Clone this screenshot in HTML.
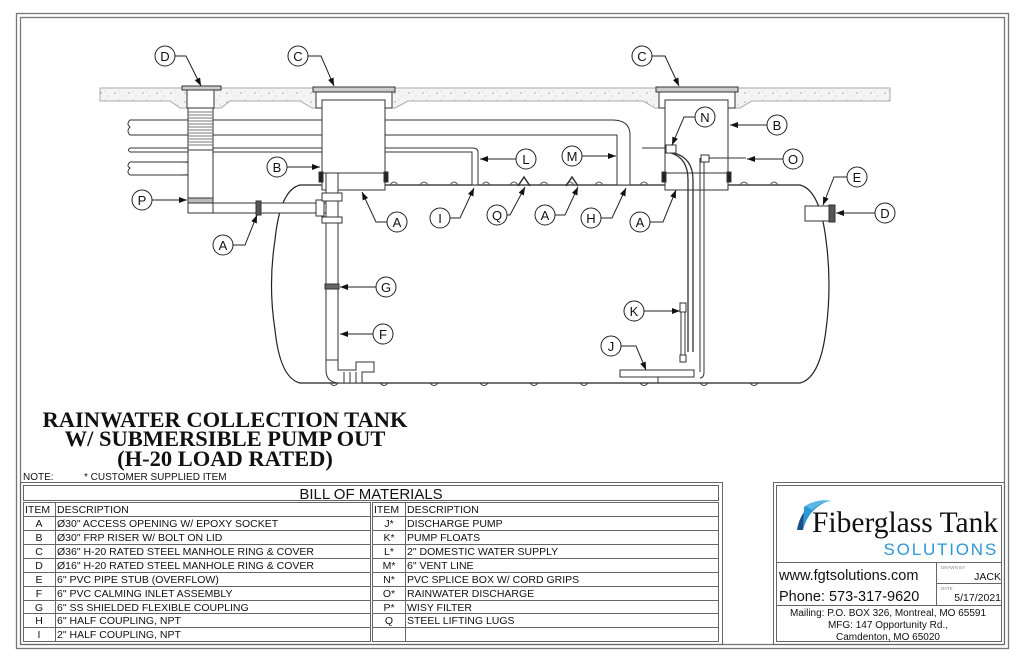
<!DOCTYPE html>
<html><head><meta charset="utf-8"><style>
html,body{margin:0;padding:0;background:#fff}
svg{display:block}
text{font-family:"Liberation Sans",sans-serif;fill:#111}
.s{font-family:"Liberation Serif",serif;font-weight:bold}
.t{font-size:10.5px}
</style></head><body>
<svg width="1024" height="663" viewBox="0 0 1024 663" xmlns="http://www.w3.org/2000/svg">
<defs>
<marker id="a" markerWidth="8" markerHeight="6" refX="8" refY="3" orient="auto" markerUnits="userSpaceOnUse"><path d="M0,0 L8,3 L0,6z" fill="#111"/></marker>
<pattern id="dots" width="14" height="9" patternUnits="userSpaceOnUse"><rect width="14" height="9" fill="#f4f4f4"/><circle cx="3" cy="3" r="0.6" fill="#777"/><circle cx="10" cy="6" r="0.5" fill="#999"/><circle cx="7" cy="1" r="0.4" fill="#888"/></pattern>
</defs>
<!-- frame -->
<rect x="16.5" y="13.5" width="992" height="635" fill="none" stroke="#777" stroke-width="1.3"/>
<rect x="20.5" y="17.5" width="984" height="627" fill="none" stroke="#777" stroke-width="1.3"/>

<g stroke="#333" stroke-width="1" fill="none">
<!-- slab -->
<path fill="url(#dots)" stroke="#aaa" d="M100,88 H890 V101 H752 L740,108 H655 L643,101 H408 L395,108 H312 L300,101 H230 L221,108 H180 L170,101 H100Z"/>
<!-- tank -->
<path d="M300,185 H800 Q820,190 826,240 Q832,285 826,330 Q820,378 800,383 H300 Q280,378 275,330 Q268,285 275,240 Q280,190 300,185Z" stroke="#222" stroke-width="1.2" fill="#fff"/>
<path d="M390,185 q4,-6 8,0 M420,185 q4,-6 8,0 M450,185 q4,-6 8,0 M482,185 q4,-6 8,0 M510,185 q4,-6 8,0 M540,185 q4,-6 8,0 M566,185 q4,-6 8,0 M595,185 q4,-6 8,0 M640,185 q4,-6 8,0 M740,185 q4,-6 8,0 M770,185 q4,-6 8,0" stroke="#555"/>
<path d="M330,383 q4,5 8,0 M380,383 q4,5 8,0 M430,383 q4,5 8,0 M480,383 q4,5 8,0 M530,383 q4,5 8,0 M580,383 q4,5 8,0 M640,383 q4,5 8,0 M700,383 q4,5 8,0 M750,383 q4,5 8,0"/>
<path d="M518,186 l6,-9 l6,9 M566,186 l6,-9 l6,9" stroke-width="1.5"/>
<!-- pipes -->
<path fill="#fff" d="M130,120 H612 Q630,120 630,135 V185 H617 V135 H130 M130,120 q-4,4 0,7 q-4,4 0,8"/>
<path fill="#fff" d="M130,148 H472 Q478,148 478,152 V185 H472 V152 H130 M130,148 q-3,2 0,4"/>
<path fill="#fff" d="M130,162 H188 V175 H130 M130,162 q-4,4 0,6 q-4,4 0,7"/>
<path d="M180,162 q25,0 25,7 q0,6 -25,6"/>
<!-- filter column D -->
<rect x="182" y="86" width="39" height="4" fill="#ccc"/>
<rect x="187" y="90" width="27" height="18" fill="#fff"/>
<rect x="188" y="108" width="25" height="42" fill="#fff"/>
<path d="M188,112 H213 M188,115 H213 M188,118 H213 M188,121 H213 M188,124 H213 M188,127 H213 M188,130 H213 M188,133 H213 M188,136 H213 M188,139 H213 M188,142 H213 M188,145 H213" stroke="#777"/>
<rect x="188" y="150" width="25" height="63" fill="#fff"/>
<rect x="188" y="198" width="25" height="5" fill="#bbb"/>
<path fill="#fff" d="M213,203 H335 V213 H213 Z"/>
<rect x="256" y="201" width="5" height="14" fill="#555"/>
<rect x="316" y="200" width="8" height="16" fill="#fff"/>
<!-- left riser -->
<rect x="313" y="87" width="82" height="5" fill="#ccc"/>
<rect x="316" y="92" width="76" height="16" fill="#fff"/>
<rect x="322" y="100" width="63" height="90" fill="#fff"/>
<rect x="322" y="173" width="63" height="17"/>
<rect x="319" y="172" width="4" height="10" fill="#222"/><rect x="384" y="172" width="4" height="10" fill="#222"/>
<!-- inlet F -->
<rect x="326" y="173" width="12" height="192" fill="#fff"/>
<rect x="322" y="193" width="20" height="8" fill="#fff"/>
<rect x="322" y="217" width="20" height="6" fill="#fff"/>
<rect x="325" y="284" width="14" height="5" fill="#666"/>
<path fill="#fff" d="M326,360 V370 Q326,383 340,383 H362 V372 H374 V362 H356 V370 H338 V360Z"/>
<path d="M344,372 V383 M350,372 V383 M356,372 V383"/>
<!-- right riser -->
<rect x="656" y="87" width="82" height="5" fill="#ccc"/>
<rect x="659" y="92" width="76" height="16" fill="#fff"/>
<rect x="665" y="100" width="63" height="90" fill="#fff"/>
<rect x="665" y="173" width="63" height="17"/>
<rect x="662" y="172" width="4" height="10" fill="#222"/><rect x="727" y="172" width="4" height="10" fill="#222"/>
<rect x="666" y="145" width="10" height="8" fill="#fff"/>
<path d="M642,148 H666"/>
<path d="M671,153 Q688,158 688,180 V352 M674,153 Q693,158 693,180 V352" stroke-width="1.3"/>
<path d="M681,305 V360 M685,305 V360"/>
<rect x="680" y="303" width="6" height="9" fill="#fff"/>
<rect x="680" y="355" width="6" height="7" fill="#fff"/>
<path d="M700,158 V372 M704,158 V372 Q704,378 700,378"/>
<rect x="701" y="155" width="8" height="7" fill="#fff"/>
<path d="M709,158 H746"/>
<rect x="620" y="370" width="74" height="7" fill="#fff"/>
<path d="M658,377 V383"/>
<rect x="805" y="206" width="24" height="15" fill="#fff"/>
<rect x="829" y="205" width="6" height="17" fill="#555"/>
</g>

<g stroke="#222" stroke-width="1" fill="none">
<path d="M175,56 H186 L201,86" marker-end="url(#a)"/>
<path d="M308,56 H321 L334,86" marker-end="url(#a)"/>
<path d="M652,56 H665 L679,86" marker-end="url(#a)"/>
<path d="M695,117 H684 L672,145" marker-end="url(#a)"/>
<path d="M767,125 H730" marker-end="url(#a)"/>
<path d="M516,159 H480" marker-end="url(#a)"/>
<path d="M562,156 H616" marker-end="url(#a)"/>
<path d="M783,159 H747" marker-end="url(#a)"/>
<path d="M847,177 H834 L823,205" marker-end="url(#a)"/>
<path d="M875,213 H836" marker-end="url(#a)"/>
<path d="M287,167 H320" marker-end="url(#a)"/>
<path d="M152,200 H187" marker-end="url(#a)"/>
<path d="M387,222 H376 L362,192" marker-end="url(#a)"/>
<path d="M450,218 H460 L474,188" marker-end="url(#a)"/>
<path d="M507,215 H510 L525,187" marker-end="url(#a)"/>
<path d="M555,215 H565 L578,187" marker-end="url(#a)"/>
<path d="M601,218 H612 L626,188" marker-end="url(#a)"/>
<path d="M650,222 H663 L676,190" marker-end="url(#a)"/>
<path d="M233,245 H245 L257,215" marker-end="url(#a)"/>
<path d="M376,287 H340" marker-end="url(#a)"/>
<path d="M373,334 H340" marker-end="url(#a)"/>
<path d="M644,311 H680" marker-end="url(#a)"/>
<path d="M621,346 H636 L646,370" marker-end="url(#a)"/>
</g>
<g stroke="#222" fill="#fff" stroke-width="1">
<circle cx="165" cy="56" r="10"/><circle cx="298" cy="56" r="10"/><circle cx="642" cy="56" r="10"/>
<circle cx="705" cy="117" r="10"/><circle cx="777" cy="125" r="10"/><circle cx="526" cy="159" r="10"/>
<circle cx="572" cy="156" r="10"/><circle cx="793" cy="159" r="10"/><circle cx="857" cy="177" r="10"/>
<circle cx="885" cy="213" r="10"/><circle cx="277" cy="167" r="10"/><circle cx="142" cy="200" r="10"/>
<circle cx="397" cy="222" r="10"/><circle cx="440" cy="218" r="10"/><circle cx="497" cy="215" r="10"/>
<circle cx="545" cy="215" r="10"/><circle cx="591" cy="218" r="10"/><circle cx="640" cy="222" r="10"/>
<circle cx="223" cy="245" r="10"/><circle cx="386" cy="287" r="10"/><circle cx="383" cy="334" r="10"/>
<circle cx="634" cy="311" r="10"/><circle cx="611" cy="346" r="10"/>
</g>
<g font-size="13" text-anchor="middle">
<text x="165" y="61">D</text><text x="298" y="61">C</text><text x="642" y="61">C</text>
<text x="705" y="122">N</text><text x="777" y="130">B</text><text x="526" y="164">L</text>
<text x="572" y="161">M</text><text x="793" y="164">O</text><text x="857" y="182">E</text>
<text x="885" y="218">D</text><text x="277" y="172">B</text><text x="142" y="205">P</text>
<text x="397" y="227">A</text><text x="440" y="223">I</text><text x="497" y="220">Q</text>
<text x="545" y="220">A</text><text x="591" y="223">H</text><text x="640" y="227">A</text>
<text x="223" y="250">A</text><text x="386" y="292">G</text><text x="383" y="339">F</text>
<text x="634" y="316">K</text><text x="611" y="351">J</text>
</g>

<g font-size="22.5" text-anchor="middle">
<text class="s" x="225" y="427">RAINWATER COLLECTION TANK</text>
<text class="s" x="225" y="446">W/ SUBMERSIBLE PUMP OUT</text>
<text class="s" x="225" y="466">(H-20 LOAD RATED)</text>
</g>
<text x="23" y="480" font-size="10">NOTE:</text>
<text x="84" y="480" font-size="10">* CUSTOMER SUPPLIED ITEM</text>

<g stroke="#666" fill="none" stroke-width="1">
<rect x="20.5" y="482.5" width="702" height="162"/>
<rect x="23.5" y="485.5" width="695" height="15"/>
<rect x="23.5" y="502.5" width="347" height="139"/>
<rect x="372.5" y="502.5" width="346" height="139"/>
<path d="M55.5,503 V641 M405.5,503 V641"/>
<path d="M24,516.5 H370 M24,530.5 H370 M24,544.5 H370 M24,558.5 H370 M24,572.5 H370 M24,586.5 H370 M24,600.5 H370 M24,613.5 H370 M24,627.5 H370"/>
<path d="M373,516.5 H718 M373,530.5 H718 M373,544.5 H718 M373,558.5 H718 M373,572.5 H718 M373,586.5 H718 M373,600.5 H718 M373,613.5 H718 M373,627.5 H718"/>
</g>
<text x="371" y="499" font-size="15" text-anchor="middle">BILL OF MATERIALS</text>
<g class="t">
<text x="25" y="513">ITEM</text><text x="57" y="513">DESCRIPTION</text>
<g text-anchor="middle"><text x="39" y="527">A</text><text x="39" y="541">B</text><text x="39" y="555">C</text><text x="39" y="569">D</text><text x="39" y="583">E</text><text x="39" y="597">F</text><text x="39" y="611">G</text><text x="39" y="624">H</text><text x="39" y="638">I</text></g>
<text x="57" y="527">Ø30" ACCESS OPENING W/ EPOXY SOCKET</text>
<text x="57" y="541">Ø30" FRP RISER W/ BOLT ON LID</text>
<text x="57" y="555">Ø36" H-20 RATED STEEL MANHOLE RING &amp; COVER</text>
<text x="57" y="569">Ø16" H-20 RATED STEEL MANHOLE RING &amp; COVER</text>
<text x="57" y="583">6" PVC PIPE STUB (OVERFLOW)</text>
<text x="57" y="597">6" PVC CALMING INLET ASSEMBLY</text>
<text x="57" y="611">6" SS SHIELDED FLEXIBLE COUPLING</text>
<text x="57" y="624">6" HALF COUPLING, NPT</text>
<text x="57" y="638">2" HALF COUPLING, NPT</text>
<text x="374" y="513">ITEM</text><text x="407" y="513">DESCRIPTION</text>
<g text-anchor="middle"><text x="389" y="527">J*</text><text x="389" y="541">K*</text><text x="389" y="555">L*</text><text x="389" y="569">M*</text><text x="389" y="583">N*</text><text x="389" y="597">O*</text><text x="389" y="611">P*</text><text x="389" y="624">Q</text></g>
<text x="407" y="527">DISCHARGE PUMP</text>
<text x="407" y="541">PUMP FLOATS</text>
<text x="407" y="555">2" DOMESTIC WATER SUPPLY</text>
<text x="407" y="569">6" VENT LINE</text>
<text x="407" y="583">PVC SPLICE BOX W/ CORD GRIPS</text>
<text x="407" y="597">RAINWATER DISCHARGE</text>
<text x="407" y="611">WISY FILTER</text>
<text x="407" y="624">STEEL LIFTING LUGS</text>
</g>

<g stroke="#666" fill="none">
<rect x="773.5" y="482.5" width="231" height="162"/>
<rect x="776.5" y="485.5" width="225" height="156"/>
<path d="M777,562.5 H1002 M777,605.5 H1002 M936.5,563 V605 M937,583.5 H1002"/>
</g>
<path d="M812,505 Q800,512 797,530 L803,530 Q806,514 814,508Z" fill="#1d4f86"/>
<path d="M803,530 Q808,510 826,502 Q813,500 804,507Z" fill="#2f97d5"/>
<path d="M806,506 Q818,498 832,501 Q820,502 812,510Z" fill="#5db7e6"/>
<text x="812" y="532" font-size="29.5" style="font-family:'Liberation Serif',serif">Fiberglass Tank</text>
<text x="998" y="555" font-size="17" text-anchor="end" letter-spacing="1.8" style="fill:#2f97d5">SOLUTIONS</text>
<text x="779" y="580" font-size="14.5">www.fgtsolutions.com</text>
<text x="779" y="601" font-size="14.5">Phone: 573-317-9620</text>
<text x="941" y="569" font-size="4.5" style="fill:#888">DRAWN BY</text>
<text x="1001" y="580" font-size="10.5" text-anchor="end">JACK</text>
<text x="941" y="590" font-size="4.5" style="fill:#888">DATE</text>
<text x="1001" y="601" font-size="10.5" text-anchor="end">5/17/2021</text>
<g font-size="10" text-anchor="middle">
<text x="888" y="616">Mailing: P.O. BOX 326, Montreal, MO 65591</text>
<text x="888" y="628">MFG: 147 Opportunity Rd.,</text>
<text x="888" y="640">Camdenton, MO 65020</text>
</g>
</svg>
</body></html>
